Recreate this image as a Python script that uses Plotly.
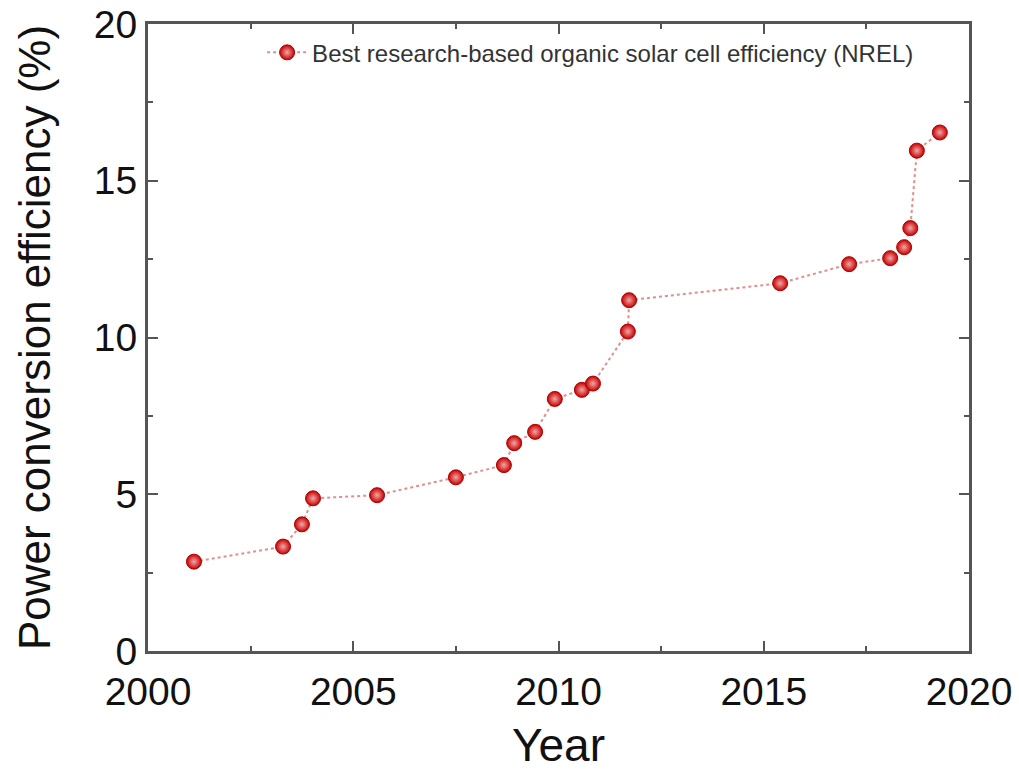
import plotly.graph_objects as go

# Certified record efficiencies of organic solar cells (NREL chart)
years = [2001.12, 2003.29, 2003.75, 2004.02, 2005.58, 2007.50, 2008.67, 2008.92,
         2009.43, 2009.91, 2010.57, 2010.84, 2011.69, 2011.72, 2015.40, 2017.08,
         2018.08, 2018.42, 2018.57, 2018.73, 2019.29]
efficiency = [2.85, 3.33, 4.04, 4.87, 4.97, 5.54, 5.93, 6.63,
              6.99, 8.04, 8.33, 8.53, 10.19, 11.19, 11.73, 12.34,
              12.53, 12.88, 13.49, 15.96, 16.54]

series_name = "Best research-based organic solar cell efficiency (NREL)"
x_ticks = [2000, 2005, 2010, 2015, 2020]
y_ticks = [0, 5, 10, 15, 20]

axis_color = "#555555"
font_family = "Liberation Sans, Arial, sans-serif"

fig = go.Figure()
fig.add_trace(go.Scatter(
    x=years, y=efficiency, name=series_name, mode="lines+markers",
    line=dict(color="#e08e8e", width=2, dash="dot"),
    marker=dict(size=15, color="#c80000",
                gradient=dict(type="radial", color="#f0a8a8"),
                line=dict(color="#b00000", width=1)),
))

axis_common = dict(
    showline=True, linecolor=axis_color, linewidth=3, mirror="ticks",
    ticks="inside", ticklen=10, tickwidth=2, tickcolor=axis_color,
    showgrid=False, zeroline=False, automargin=False,
    tickfont=dict(family=font_family, size=39, color="#111111"),
)

fig.update_layout(
    width=1019, height=771,
    margin=dict(l=148, r=50, t=24, b=120),
    paper_bgcolor="white", plot_bgcolor="white",
    font=dict(family=font_family),
    showlegend=True,
    legend=dict(x=0.139, y=0.99, xanchor="left", yanchor="top",
                itemwidth=40,
                bgcolor="rgba(0,0,0,0)",
                font=dict(family=font_family, size=24, color="#333333")),
    xaxis=dict(range=[2000, 2020], tickvals=x_ticks, ticklabelstandoff=4,
               minor=dict(ticks="inside", ticklen=5, tickwidth=2,
                          tickcolor=axis_color, dtick=2.5, tick0=2000),
               title=dict(text="Year", standoff=28,
                          font=dict(family=font_family, size=46, color="#111111")),
               **axis_common),
    yaxis=dict(range=[0, 20], tickvals=y_ticks,
               minor=dict(ticks="inside", ticklen=5, tickwidth=2,
                          tickcolor=axis_color, dtick=2.5, tick0=0),
               title=dict(text="Power conversion efficiency (%)", standoff=30,
                          font=dict(family=font_family, size=44, color="#111111")),
               **axis_common),
)

fig.write_html("out.html")
